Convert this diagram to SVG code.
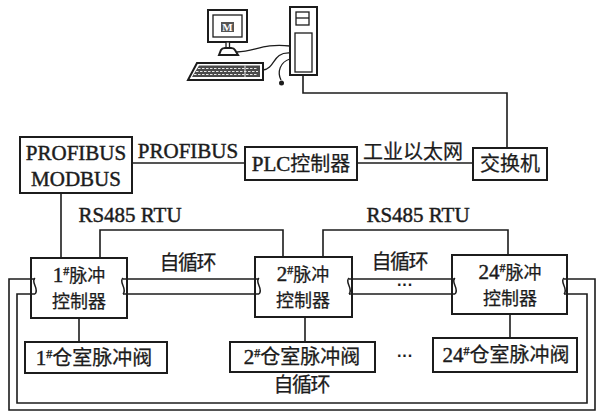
<svg xmlns="http://www.w3.org/2000/svg" width="597" height="413" viewBox="0 0 597 413">
  <style>
    .box { fill: #fff; stroke: #1c1c1c; stroke-width: 2; }
    .ln { fill: none; stroke: #1c1c1c; stroke-width: 1.6; }
    .thin { fill: none; stroke: #1c1c1c; stroke-width: 1.3; }
    .en { font-family: "Liberation Serif", "Times New Roman", serif; font-size: 21px; fill: #1c1c1c; stroke: #1c1c1c; stroke-width: 0.45; }
    .cn { font-family: "Liberation Serif", "Noto Sans CJK SC", sans-serif; font-size: 20px; fill: #1c1c1c; stroke: #1c1c1c; stroke-width: 0.25; }
    .cn18 { font-family: "Liberation Serif", "Noto Sans CJK SC", sans-serif; font-size: 18px; fill: #1c1c1c; stroke: #1c1c1c; stroke-width: 0.25; }
    .sup { font-size: 12px; font-weight: bold; }
    .dots { font-family: "Liberation Sans", sans-serif; font-size: 16px; font-weight: bold; fill: #1c1c1c; }
  </style>
  <defs>
    <!-- pipe break mark used where the loop lines meet a controller -->
    <path id="brk" d="M 0 0 C -5 4, 5 11, 0 16" fill="none" stroke="#1c1c1c" stroke-width="1.5"/>
  </defs>
  <rect width="597" height="413" fill="#fff"/>

  <!-- upper computer -->
  <g id="computer">
    <rect x="208" y="10" width="39" height="32" class="box"/>
    <rect x="213" y="15" width="29" height="22" class="thin"/>
    <rect x="221" y="22" width="13" height="10" fill="#555"/>
    <text x="227.5" y="31" text-anchor="middle" font-family="Liberation Serif, serif" font-size="11" font-weight="bold" fill="#fff">M</text>
    <rect x="226" y="42" width="3.5" height="6" fill="#fff" stroke="#1c1c1c" stroke-width="1.3"/>
    <path d="M 219 55 L 221 50 Q 222 48 225 48 L 231 48 Q 234 48 235 50 L 238 55 Z" class="box" stroke-width="1.5"/>
    <path d="M 188 80 L 197 63 L 263 63 L 263 80 Z" class="box" stroke-width="1.5"/>
    <path d="M 192 77 L 199 65.5 L 260 65.5 L 260 77 Z" fill="#4a4a4a"/>
    <path d="M 198 68.5 H 258 M 196 71.5 H 258 M 194 74.5 H 258" stroke="#e8e8e8" stroke-width="1" stroke-dasharray="2.5 1.5"/>
    <path d="M 245 65.5 V 77" stroke="#e8e8e8" stroke-width="1"/>
    <rect x="290" y="7" width="27" height="68" class="box"/>
    <rect x="296" y="12" width="13" height="13" class="thin"/>
    <path d="M 296 18 H 309" class="thin"/>
    <rect x="295" y="33" width="17" height="39" class="thin"/>
    <path d="M 237 52 C 255 52, 262 43, 290 46" class="thin"/>
    <path d="M 263 70 C 276 68, 272 52, 290 53" class="thin"/>
    <path d="M 290 59 C 280 62, 277 72, 281 80" class="thin"/>
    <circle cx="281.5" cy="83" r="2.5" fill="#1c1c1c"/>
  </g>

  <g id="profibus-modbus">
    <rect x="20" y="137" width="112" height="56" class="box"/>
    <text x="76" y="160" text-anchor="middle" class="en">PROFIBUS</text>
    <text x="76" y="186" text-anchor="middle" class="en">MODBUS</text>
  </g>
  <g id="plc">
    <rect x="245" y="147" width="112" height="33" class="box"/>
    <text x="301" y="171" text-anchor="middle" class="cn"><tspan class="en">PLC</tspan>控制器</text>
  </g>
  <g id="switch">
    <rect x="473" y="148" width="74" height="32" class="box"/>
    <text x="510" y="171" text-anchor="middle" class="cn" textLength="60" lengthAdjust="spacing">交换机</text>
  </g>

  <g id="ctrl-1">
    <rect x="31" y="258" width="96" height="60" class="box"/>
    <text x="79" y="282" text-anchor="middle" class="cn18"><tspan class="en" font-size="19">1</tspan><tspan class="sup" dy="-7">#</tspan><tspan dy="7">脉冲</tspan></text>
    <text x="79" y="308" text-anchor="middle" class="cn18">控制器</text>
  </g>
  <g id="ctrl-2">
    <rect x="255" y="257" width="97" height="60" class="box"/>
    <text x="303" y="281" text-anchor="middle" class="cn18"><tspan class="en" font-size="19">2</tspan><tspan class="sup" dy="-7">#</tspan><tspan dy="7">脉冲</tspan></text>
    <text x="303" y="307" text-anchor="middle" class="cn18">控制器</text>
  </g>
  <g id="ctrl-24">
    <rect x="452" y="255" width="115" height="59" class="box"/>
    <text x="510" y="279" text-anchor="middle" class="cn18"><tspan class="en" font-size="19">24</tspan><tspan class="sup" dy="-7">#</tspan><tspan dy="7">脉冲</tspan></text>
    <text x="510" y="305" text-anchor="middle" class="cn18">控制器</text>
  </g>

  <g id="valve-1">
    <rect x="25" y="342" width="142" height="31" class="box"/>
    <text x="94" y="365" text-anchor="middle" class="cn"><tspan class="en">1</tspan><tspan class="sup" dy="-7">#</tspan><tspan dy="7">仓室脉冲阀</tspan></text>
  </g>
  <g id="valve-2">
    <rect x="230" y="342" width="145" height="30" class="box"/>
    <text x="302" y="364" text-anchor="middle" class="cn"><tspan class="en">2</tspan><tspan class="sup" dy="-7">#</tspan><tspan dy="7">仓室脉冲阀</tspan></text>
  </g>
  <g id="valve-24">
    <rect x="433" y="338" width="144" height="34" class="box"/>
    <text x="506" y="362" text-anchor="middle" class="cn"><tspan class="en">24</tspan><tspan class="sup" dy="-7">#</tspan><tspan dy="7">仓室脉冲阀</tspan></text>
  </g>

  <g id="connectors">
    <!-- computer to switch -->
    <path d="M 303 75 V 93 H 507 V 148" class="ln"/>
    <!-- bus lines -->
    <path d="M 132 163 H 245" class="ln"/>
    <path d="M 357 163 H 473" class="ln"/>
    <path d="M 61 193 V 258" class="ln"/>
    <!-- RS485 links -->
    <path d="M 100 258 V 230 H 283 V 257" class="ln"/>
    <path d="M 323 257 V 230 H 508 V 255" class="ln"/>
    <!-- controller to valve -->
    <path d="M 79 318 V 342" class="ln"/>
    <path d="M 305 317 V 342" class="ln"/>
    <path d="M 510 314 V 338" class="ln"/>
    <!-- self-loop double lines between controllers -->
    <path d="M 123 279 H 259 M 123 294 H 259" class="ln"/>
    <path d="M 349 279 H 455 M 349 294 H 455" class="ln"/>
    <!-- outer loops -->
    <path d="M 35 279 H 9 V 410 H 595 V 279 H 564" class="ln"/>
    <path d="M 35 294 H 17 V 403 H 587 V 294 H 564" class="ln"/>
    <use href="#brk" x="35" y="278"/>
    <use href="#brk" x="123" y="278"/>
    <use href="#brk" x="259" y="278"/>
    <use href="#brk" x="349" y="278"/>
    <use href="#brk" x="455" y="278"/>
    <use href="#brk" x="564" y="278"/>
  </g>

  <g id="labels">
    <text x="188" y="158" text-anchor="middle" class="en">PROFIBUS</text>
    <text x="413" y="159" text-anchor="middle" class="cn" textLength="100" lengthAdjust="spacing">工业以太网</text>
    <text x="130" y="222" text-anchor="middle" class="en">RS485 RTU</text>
    <text x="418" y="222" text-anchor="middle" class="en">RS485 RTU</text>
    <text x="188" y="270" text-anchor="middle" class="cn" textLength="57" lengthAdjust="spacing">自循环</text>
    <text x="400" y="269" text-anchor="middle" class="cn" textLength="57" lengthAdjust="spacing">自循环</text>
    <text x="302" y="392" text-anchor="middle" class="cn" textLength="57" lengthAdjust="spacing">自循环</text>
    <text x="405" y="290" text-anchor="middle" class="dots">···</text>
    <text x="405" y="361" text-anchor="middle" class="dots">···</text>
  </g>
</svg>
